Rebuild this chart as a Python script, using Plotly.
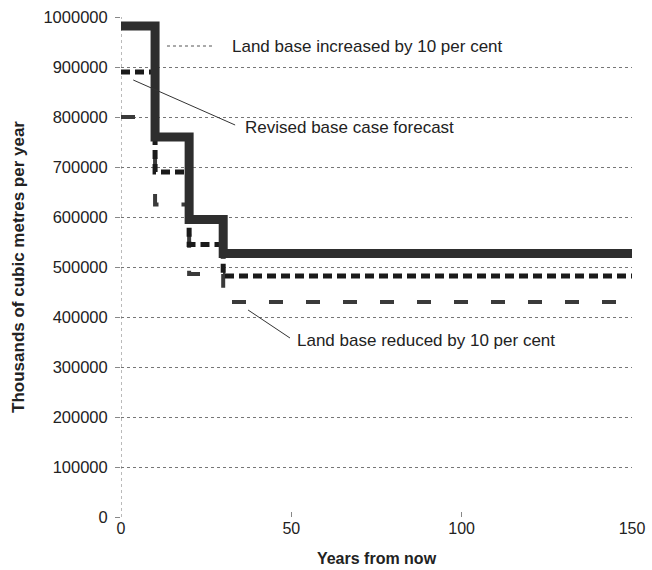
import plotly.graph_objects as go

years = [0, 10, 20, 30, 150]
land_increased = [982000, 760000, 595000, 527000, 527000]
revised_base = [890000, 690000, 545000, 482000, 482000]
land_reduced = [800000, 625000, 486000, 430000, 430000]

y_ticks = [0, 100000, 200000, 300000, 400000, 500000, 600000, 700000, 800000, 900000, 1000000]
x_ticks = [0, 50, 100, 150]

FONT = "Liberation Sans, Arial, sans-serif"

fig = go.Figure()
fig.add_trace(go.Scatter(x=years, y=land_reduced, mode="lines", line_shape="hv",
                         line=dict(color="#3a3a3a", width=4, dash="14px,23px"),
                         name="Land base reduced by 10 per cent"))
fig.add_trace(go.Scatter(x=years, y=revised_base, mode="lines", line_shape="hv",
                         line=dict(color="#1a1a1a", width=5, dash="9px,5px"),
                         name="Revised base case forecast"))
fig.add_trace(go.Scatter(x=years, y=land_increased, mode="lines", line_shape="hv",
                         line=dict(color="#2e2e2e", width=9),
                         name="Land base increased by 10 per cent"))

# left axis as dotted line
fig.add_shape(type="line", x0=0, x1=0, y0=0, y1=1000000, xref="x", yref="y",
              line=dict(color="#777777", width=1, dash="dot"), layer="below")

# leader lines
fig.add_shape(type="line", x0=13.5, x1=27.5, y0=942000, y1=942000,
              line=dict(color="#555555", width=1, dash="dot"))
fig.add_shape(type="line", x0=3.6, x1=33.5, y0=874000, y1=784000,
              line=dict(color="#333333", width=1))
fig.add_shape(type="line", x0=37.3, x1=49.6, y0=414000, y1=358000,
              line=dict(color="#333333", width=1))

ann_font = dict(family=FONT, size=17, color="#222222")
fig.add_annotation(x=32.0, y=942000, text="Land base increased by 10 per cent",
                   showarrow=False, xanchor="left", yanchor="middle", font=ann_font)
fig.add_annotation(x=35.7, y=780000, text="Revised base case forecast",
                   showarrow=False, xanchor="left", yanchor="middle", font=ann_font)
fig.add_annotation(x=51.2, y=354000, text="Land base reduced by 10 per cent",
                   showarrow=False, xanchor="left", yanchor="middle", font=ann_font)

fig.update_layout(
    width=652, height=570,
    margin=dict(l=121, r=20, t=17, b=53),
    paper_bgcolor="white", plot_bgcolor="white",
    showlegend=False,
    font=dict(family=FONT, size=16, color="#222222"),
    xaxis=dict(range=[0, 150], tickvals=x_ticks, ticktext=[str(v) for v in x_ticks],
               showgrid=False, zeroline=False, showline=False, automargin=False,
               ticks="inside", ticklen=5, tickcolor="#888888",
               tickfont=dict(size=16),
               title=dict(text="<b>Years from now</b>", font=dict(size=16), standoff=16)),
    yaxis=dict(range=[0, 1000000], tickvals=y_ticks, ticktext=[str(v) for v in y_ticks],
               showgrid=True, gridcolor="#777777", gridwidth=1, griddash="dot",
               zeroline=False, showline=False, automargin=False,
               ticks="outside", ticklen=5, tickcolor="#888888",
               ticklabelstandoff=4,
               tickfont=dict(size=16.5),
               title=dict(text="<b>Thousands of cubic metres per year</b>", font=dict(size=17), standoff=14)),
)

fig.write_html("out.html",
               config={"displayModeBar": False},
               post_script="document.body.style.margin='0px';document.body.style.overflow='hidden';")
